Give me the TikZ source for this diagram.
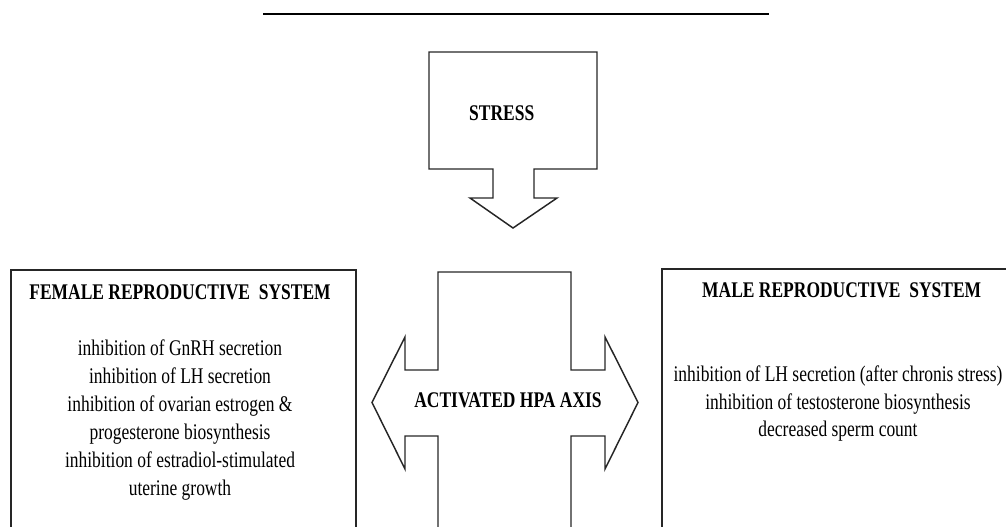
\documentclass[tikz,border=0pt]{standalone}
\usepackage{fontspec}
\usepackage{graphicx}
\setmainfont{Liberation Serif}
\newcommand{\vst}[1]{\scalebox{1}[1.28]{#1}}
\newcommand{\txtsz}{\fontsize{13.1pt}{16.35pt}\selectfont}
\tikzset{
  shapeline/.style={draw=black!85, line width=1.1pt, line join=miter},
  title/.style={inner sep=0pt, font=\txtsz\bfseries},
  body/.style={inner sep=0pt, font=\txtsz}
}
\begin{document}
\begin{tikzpicture}[x=0.75pt,y=-0.75pt]
\useasboundingbox (0,0) rectangle (1006,526);
% top rule
\draw[line width=2pt] (263,14) -- (769,14);
% stress arrow
\draw[shapeline] (429,52) -- (597,52) -- (597,169) -- (534,169) -- (534,198)
  -- (557,198) -- (513,228) -- (470,198) -- (493,198) -- (493,169) -- (429,169) -- cycle;
\node[title] (stress) at (501.7,113.3) {\vst{STRESS}};
% HPA double arrow
\draw[shapeline] (438,530) -- (438,436) -- (405,436) -- (405,469) -- (372,402.5)
  -- (405,337) -- (405,370) -- (438,370) -- (438,272) -- (571,272) -- (571,370)
  -- (605,370) -- (605,337) -- (638,402.5) -- (605,469) -- (605,436) -- (571,436) -- (571,530);
\node[title] (hpa) at (508,400) {\vst{ACTIVATED HPA AXIS}};
% female box
\draw[shapeline] (11,530) -- (11,270) -- (356,270) -- (356,530);
\node[title] (ftitle) at (180,292.7) {\vst{FEMALE REPRODUCTIVE\ \ SYSTEM}};
\node[body] (fbody) at (180,420) {\vst{\begin{tabular}{@{}c@{}}
inhibition of GnRH secretion\\
inhibition of LH secretion\\
inhibition of ovarian estrogen \&\\
progesterone biosynthesis\\
inhibition of estradiol-stimulated\\
uterine growth
\end{tabular}}};
% male box
\draw[shapeline] (662,530) -- (662,269) -- (1010,269);
\node[title] (mtitle) at (841.7,290.7) {\vst{MALE REPRODUCTIVE\ \ SYSTEM}};
\node[body] (mbody) at (838,403.5) {\vst{\begin{tabular}{@{}c@{}}
inhibition of LH secretion (after chronis stress)\\
inhibition of testosterone biosynthesis\\
decreased sperm count
\end{tabular}}};
\end{tikzpicture}
\end{document}
